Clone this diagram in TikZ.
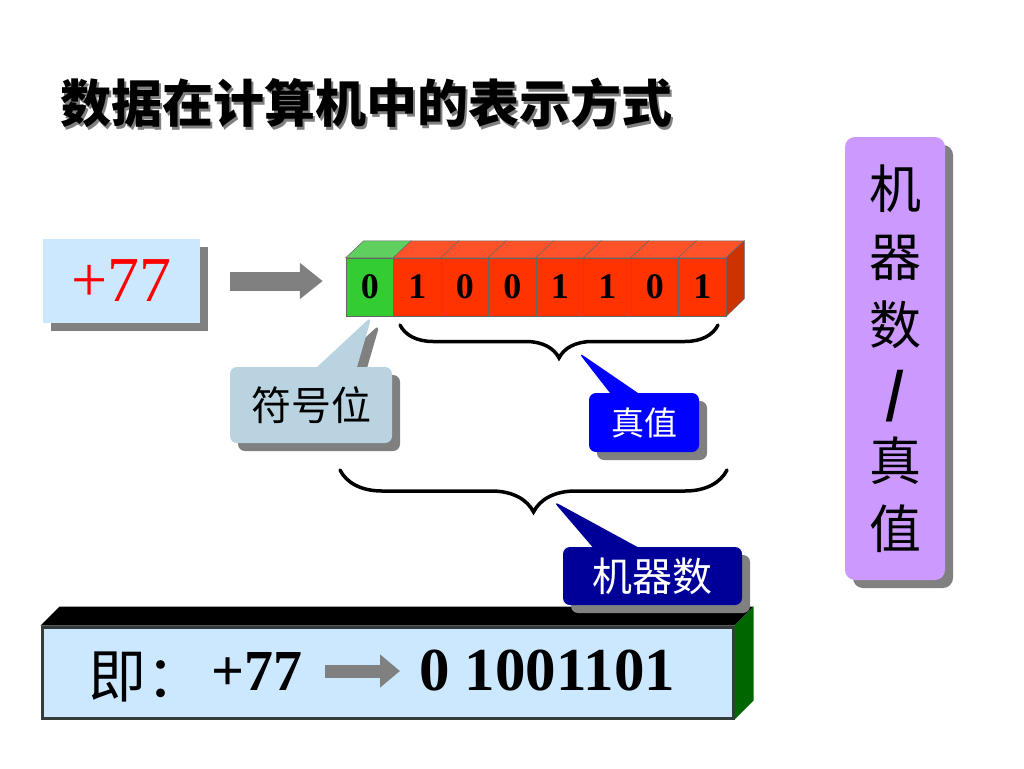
\documentclass[tikz,border=0pt]{standalone}
\usepackage{fontspec}
\setmainfont{Liberation Serif}
\newfontfamily\cjk{Noto Sans CJK SC}
\usetikzlibrary{shapes.callouts,shadows,decorations.pathreplacing,arrows.meta}

\definecolor{boxblue}{HTML}{CCE8FF}
\definecolor{tipblue}{HTML}{B9D4E0}
\definecolor{callnavy}{HTML}{000099}
\definecolor{lilac}{HTML}{CC99FF}
\definecolor{bitgreen}{HTML}{33CC33}
\definecolor{bitgreentop}{HTML}{5FCF5F}
\definecolor{bitred}{HTML}{FF3300}
\definecolor{bitredtop}{HTML}{FF5229}
\definecolor{bitredside}{HTML}{CC3300}
\definecolor{shade}{HTML}{808080}
\definecolor{sidegreen}{HTML}{006600}
\definecolor{eqedge}{HTML}{333B3B}

\tikzset{
  shadowed/.style={drop shadow={shadow xshift=8pt,shadow yshift=-8pt,opacity=1,fill=shade}},
  callout/.style={rectangle callout,rounded corners=7pt,shadowed},
  bit/.style={draw=black!60,line width=0.5pt,minimum width=47.5pt,minimum height=58pt,
    font=\fontsize{36}{36}\selectfont\bfseries},
  face/.style={draw=black!60,line width=0.5pt},
  blockarr/.style={draw=shade,line width=19pt,-{Triangle[length=23pt,width=35pt]}},
  smallarr/.style={draw=shade,line width=13pt,-{Triangle[length=20pt,width=32pt]}},
  curly/.style={decorate,line width=3.5pt,line cap=round},
  eqtext/.style={anchor=base west,font=\fontsize{58}{58}\selectfont\bfseries}
}

\begin{document}
\begin{tikzpicture}[x=1pt,y=-1pt,inner sep=0pt]
  \useasboundingbox (0,0) rectangle (1024,768);

  \begin{scope}[every node/.style={anchor=west,font=\cjk\bfseries\fontsize{51}{51}\selectfont}]
    \node[text=shade] (ts) at (62.5,105.5) {数据在计算机中的表示方式};
    \node (t) at (60,103) {数据在计算机中的表示方式};
  \end{scope}

  \node[fill=boxblue,shadowed,minimum width=157pt,minimum height=84pt,
    text=red,font=\fontsize{64}{64}\selectfont] (num) at (121.5,281) {+77};

  \begin{scope}[every node/.style={bit}]
    \node[fill=bitgreen] (b0) at (369.75,287) {0};
    \foreach \v [count=\i] in {1,0,0,1,1,0,1}
      \node[fill=bitred] (b\i) at (369.75+47.5*\i,287) {\v};
  \end{scope}

  \filldraw[face,fill=bitgreentop] (b0.north west) -- ++(18,-17) -- ++(47.5,0) -- (b0.north east) -- cycle;
  \foreach \i in {1,...,7}
    \filldraw[face,fill=bitredtop] (b\i.north west) -- ++(18,-17) -- ++(47.5,0) -- (b\i.north east) -- cycle;
  \filldraw[face,fill=bitredside] (b7.north east) -- ++(18,-17) -- ++(0,58) -- (b7.south east) -- cycle;

  \draw[blockarr,shorten <=30pt,shorten >=23pt] (num.east) -- (b0.west |- num.east);

  \coordinate (br1a) at (718,325);
  \coordinate (br1b) at (400,325);
  \coordinate (br2a) at (727,470);
  \coordinate (br2b) at (340,470);
  \draw[curly,decoration={brace,amplitude=33pt}] (br1a) -- (br1b);
  \draw[curly,decoration={brace,amplitude=42pt}] (br2a) -- (br2b);
  \coordinate (v) at (578,352);
  \coordinate (w) at (553,501);

  \begin{scope}[every node/.style={font=\cjk\fontsize{40}{40}\selectfont}]
    \node[callout,fill=tipblue,minimum width=162pt,minimum height=76pt,callout pointer width=40pt,
      callout absolute pointer={([xshift=2pt]b0.south)}] (sg) at (311,405) {符号位};
    \node[callout,fill=blue,text=white,minimum width=110pt,minimum height=59pt,callout pointer width=28pt,
      font=\cjk\fontsize{33}{33}\selectfont,callout absolute pointer={(v)}] (tv) at (644,422.5) {真值};
  \end{scope}

  \node[fill=lilac,rounded corners=10pt,shadowed,minimum width=100pt,minimum height=443pt,
    align=center,font=\cjk\fontsize{52}{68}\selectfont] (mv) at (895,358.5) {机\\器\\数\\{\bfseries/}\\真\\值};

  \node[draw=eqedge,line width=3pt,fill=boxblue,minimum width=691pt,minimum height=91pt] (eq) at (387.5,672.5) {};
  \fill[black] (eq.north west) -- ++(19,-19) -- ([shift={(19,-19)}]eq.north east) -- (eq.north east) -- cycle;
  \fill[sidegreen] (eq.north east) -- ++(19,-19) -- ([shift={(19,-19)}]eq.south east) -- (eq.south east) -- cycle;

  \node[anchor=base west,font=\cjk\fontsize{58}{58}\selectfont] (ji) at (88,697) {即：};
  \node[eqtext] (p) at (211,690) {+77};
  \node[eqtext,font=\fontsize{61}{61}\selectfont\bfseries] (m) at (419,690) {0 1001101};
  \draw[smallarr,shorten <=23pt,shorten >=19pt] (p.east) -- (p.east -| m.west);

  \node[callout,fill=callnavy,text=white,minimum width=179pt,minimum height=58pt,callout pointer width=45pt,
    font=\cjk\fontsize{40}{40}\selectfont,callout absolute pointer={(w)}] (mn) at (652.5,576) {机器数};

\end{tikzpicture}
\end{document}
